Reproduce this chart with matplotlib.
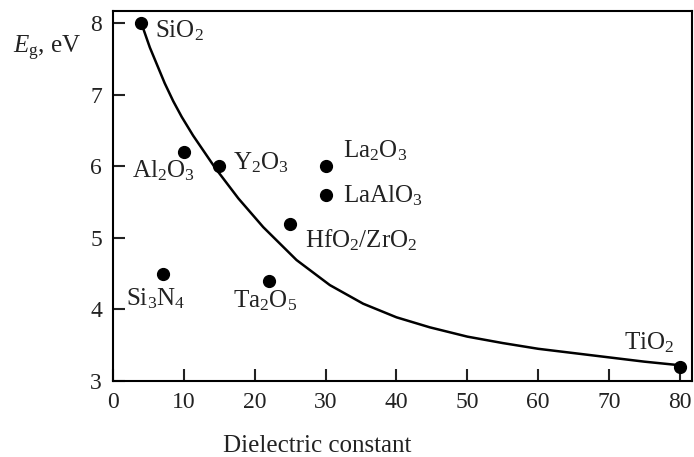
import matplotlib
matplotlib.use('Agg')
import matplotlib.pyplot as plt

# materials: dielectric constant vs band gap
materials = ['SiO$_2$', 'Al$_2$O$_3$', 'Y$_2$O$_3$', 'La$_2$O$_3$', 'LaAlO$_3$',
             'HfO$_2$/ZrO$_2$', 'Si$_3$N$_4$', 'Ta$_2$O$_5$', 'TiO$_2$']
k_values = [4, 10, 15, 30, 30, 25, 7, 22, 80]
eg_values = [8.0, 6.2, 6.0, 6.0, 5.6, 5.2, 4.5, 4.4, 3.2]

# label anchor (left, baseline) in data units
label_x = [5.9, 2.7, 16.9, 32.4, 32.4, 27.1, 1.8, 16.9, 72.1]
label_y = [7.80, 5.84, 5.95, 6.12, 5.50, 4.87, 4.06, 4.03, 3.44]

# trend curve
curve_k = [4, 5.2, 7.3, 8.5, 9.7, 11.3, 14.4, 17.7, 21.2, 25.9, 30.6, 35.3, 40, 44.7,
           50, 55, 60, 65, 70, 75, 80]
curve_eg = [8.0, 7.66, 7.16, 6.91, 6.69, 6.43, 5.98, 5.55, 5.15, 4.69, 4.34, 4.08, 3.89, 3.75,
            3.62, 3.53, 3.45, 3.39, 3.33, 3.27, 3.22]

plt.rcParams['font.family'] = ['Liberation Serif', 'DejaVu Serif']
plt.rcParams['mathtext.fontset'] = 'custom'
plt.rcParams['mathtext.rm'] = 'Liberation Serif'
plt.rcParams['mathtext.it'] = 'Liberation Serif:italic'

fig = plt.figure(figsize=(6.94, 4.57), dpi=100)
ax = fig.add_axes([113 / 694, 1 - 381 / 457, 579 / 694, 370 / 457])

ax.plot(curve_k, curve_eg, color='black', linewidth=1.8, solid_joinstyle='round')
ax.plot(k_values, eg_values, 'o', color='black', markersize=8.5, clip_on=False)

for name, lx, ly in zip(materials, label_x, label_y):
    ax.text(lx, ly, name, fontsize=18, ha='left', va='baseline', color='#222222')

ax.set_xlim(0, 81.7)
ax.set_ylim(3, 8.17)
ax.set_xticks(range(0, 81, 10))
ax.set_yticks([3, 4, 5, 6, 7, 8])

for s in ax.spines.values():
    s.set_linewidth(1.5)
ax.tick_params(direction='in', length=8.6, width=1.5, labelsize=17, colors='#222222')
ax.tick_params(axis='x', pad=8)
ax.tick_params(axis='y', pad=8)

fig.text(317.5 / 694, 1 - 452 / 457, 'Dielectric constant', fontsize=18,
         ha='center', va='baseline', color='#222222')
fig.text(13 / 694, 1 - 53 / 457, '$E_{\\mathrm{g}}$, eV', fontsize=18,
         ha='left', va='baseline', color='#222222')

plt.savefig('out.png', dpi=100)
